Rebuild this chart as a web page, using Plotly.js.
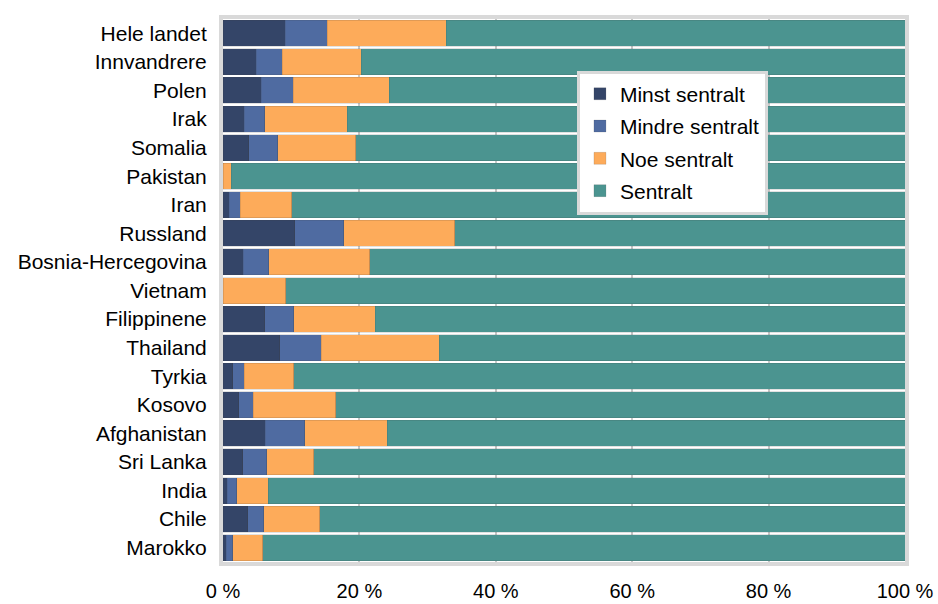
<!DOCTYPE html>
<html>
<head>
<meta charset="utf-8">
<script src="https://cdn.plot.ly/plotly-3.0.1.min.js"></script>
<style>html,body{margin:0;padding:0;background:#fff;}#chart{width:938px;height:604px;}</style>
</head>
<body>
<div id="chart"></div>
<script>
const categories = ["Hele landet","Innvandrere","Polen","Irak","Somalia","Pakistan","Iran","Russland","Bosnia-Hercegovina","Vietnam","Filippinene","Thailand","Tyrkia","Kosovo","Afghanistan","Sri Lanka","India","Chile","Marokko"];
const minstSentralt  = [9.1, 4.9, 5.6, 3.1, 3.8, 0.0, 0.9, 10.5, 3.0, 0.0, 6.1, 8.3, 1.4, 2.3, 6.2, 2.9, 0.6, 3.6, 0.5];
const mindreSentralt = [6.2, 3.8, 4.7, 3.0, 4.2, 0.0, 1.6, 7.2, 3.7, 0.0, 4.3, 6.1, 1.7, 2.1, 5.8, 3.5, 1.4, 2.4, 0.9];
const noeSentralt    = [17.4, 11.6, 14.1, 12.1, 11.5, 1.2, 7.6, 16.3, 14.8, 9.2, 11.9, 17.3, 7.3, 12.1, 12.1, 6.9, 4.6, 8.2, 4.4];
const sentralt       = [67.3, 79.7, 75.6, 81.8, 80.5, 98.8, 89.9, 66.0, 78.5, 90.8, 77.7, 68.3, 89.6, 83.5, 75.9, 86.7, 93.4, 85.8, 94.2];
const seriesNames = ["Minst sentralt","Mindre sentralt","Noe sentralt","Sentralt"];
const seriesValues = [minstSentralt, mindreSentralt, noeSentralt, sentralt];
const seriesColors = ["#344568","#4f6ba1","#fdab5a","#4b9490"];
const xTickVals = [0,20,40,60,80,100];
const xTickText = ["0 %","20 %","40 %","60 %","80 %","100 %"];

const traces = seriesNames.map((name, i) => ({
  type: "bar",
  orientation: "h",
  name: name,
  legendgroup: "g" + i,
  y: categories,
  x: seriesValues[i],
  marker: {color: seriesColors[i], line: {width: 0.6, color: "rgba(60,60,60,0.25)"}},
  hoverinfo: "x+y+name"
}));

const layout = {
  width: 938, height: 604,
  margin: {l: 223, r: 33, t: 19, b: 42, pad: 0},
  barmode: "stack",
  bargap: 0.09,
  paper_bgcolor: "#ffffff",
  plot_bgcolor: "#ffffff",
  font: {family: "Liberation Sans, Arial, sans-serif", size: 21, color: "#000"},
  xaxis: {
    range: [0, 100],
    tickvals: xTickVals,
    ticktext: xTickText,
    showgrid: true,
    gridcolor: "#c8c8c8",
    gridwidth: 2,
    zeroline: false,
    showline: true,
    mirror: true,
    linecolor: "#d9d9d9",
    linewidth: 4,
    ticks: "",
    ticklabelstandoff: 8,
    tickfont: {size: 20, color: "#000"},
    fixedrange: true
  },
  yaxis: {
    type: "category",
    categoryorder: "array",
    categoryarray: categories,
    autorange: "reversed",
    showgrid: false,
    zeroline: false,
    showline: true,
    mirror: true,
    linecolor: "#d9d9d9",
    linewidth: 4,
    ticks: "",
    ticklabelstandoff: 8,
    tickfont: {size: 21, color: "#000"},
    fixedrange: true
  },
  legend: {
    x: 0.519, y: 0.905,
    xanchor: "left", yanchor: "top",
    bgcolor: "#ffffff",
    bordercolor: "#d9d9d9",
    borderwidth: 3,
    traceorder: "grouped",
    tracegroupgap: 2,
    font: {size: 21, color: "#000"},
    itemwidth: 30
  },
  showlegend: true
};

Plotly.newPlot("chart", traces, layout, {displayModeBar: false, staticPlot: true});
</script>
</body>
</html>
